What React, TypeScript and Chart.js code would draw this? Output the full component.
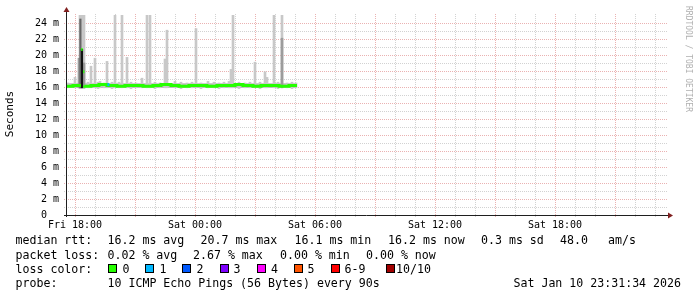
import React, { useEffect, useRef } from 'react';
import { Chart, registerables } from 'chart.js';

Chart.register(...registerables);

// ---- axis / tick data (x in hours since Fri 18:00) ----
const xTickHours = [0, 6, 12, 18, 24];
const xTickLabels = ['Fri 18:00', 'Sat 00:00', 'Sat 06:00', 'Sat 12:00', 'Sat 18:00'];
const yTickValues = [0, 2, 4, 6, 8, 10, 12, 14, 16, 18, 20, 22, 24];
const gridHours = [0, 1, 2, 3, 4, 5, 6, 7, 8, 9, 10, 11, 12, 13, 14, 15, 16, 17, 18, 19, 20, 21, 22, 23, 24, 25, 26, 27, 28, 29];
const gridMs = [1, 2, 3, 4, 5, 6, 7, 8, 9, 10, 11, 12, 13, 14, 15, 16, 17, 18, 19, 20, 21, 22, 23, 24];

// ---- median rtt (ms), loss 0 (null = median drawn as separate peak pieces) ----
const medTimes = [-0.4, -0.1, 0.15, 0.3, 0.31, 0.48, 0.8, 1.2, 1.6, 2.1, 2.5, 3.0, 3.4, 3.9, 4.3, 4.8, 5.2, 5.7, 6.2, 6.6, 7.1, 7.5, 8.0, 8.4, 8.9, 9.3, 9.8, 10.2, 10.7, 11.1];
const medValues = [16.2, 16.1, 16.2, 16.2, null, 16.2, 16.1, 16.2, 16.3, 16.2, 16.1, 16.2, 16.2, 16.1, 16.2, 16.3, 16.2, 16.1, 16.2, 16.2, 16.1, 16.2, 16.2, 16.3, 16.2, 16.1, 16.2, 16.2, 16.1, 16.2];
const peakTimes1 = [0.31, 0.38];
const peakValues1 = [20.7, 20.7];
const peakTimes2 = [0.41, 0.47];
const peakValues2 = [17.9, 17.9];
// ---- median rtt (ms), loss 1 ----
const loss1Times = [1.62, 1.72];
const loss1Values = [16.3, 16.3];

// ---- smoke: light outer range ----
const lightTimes = [-0.35, 0.0, 0.25, 0.35, 0.45, 0.65, 0.8, 1.0, 1.15, 1.25, 1.45, 1.6, 1.85, 2.0, 2.2, 2.35, 2.6, 2.8, 3.05, 3.35, 3.6, 3.75, 4.0, 4.25, 4.5, 4.6, 5.0, 5.3, 5.6, 5.85, 6.05, 6.3, 6.65, 6.95, 7.2, 7.45, 7.7, 7.8, 7.9, 8.2, 8.5, 8.75, 9.0, 9.25, 9.5, 9.6, 9.95, 10.15, 10.35, 10.6, 10.85, 11.05];
const lightHigh = [16.5, 17.2, 25, 25, 25, 16.6, 18.6, 19.6, 16.6, 16.7, 16.5, 19.2, 16.6, 25, 16.6, 25, 19.7, 16.6, 16.5, 17.1, 25, 25, 16.6, 16.5, 19.5, 23.1, 16.7, 16.6, 16.5, 16.6, 23.3, 16.5, 16.7, 16.6, 16.5, 16.6, 16.7, 18.2, 25, 16.6, 16.5, 16.6, 19.1, 16.6, 17.9, 17.2, 25, 16.6, 25, 16.5, 16.6, 16.5];
const lightLow = [15.9, 15.9, 15.8, 15.8, 15.8, 15.9, 15.9, 15.9, 15.8, 15.9, 15.9, 15.9, 15.8, 15.9, 15.9, 15.9, 15.9, 15.8, 15.9, 15.9, 15.9, 15.9, 15.8, 15.9, 15.9, 15.9, 15.9, 15.8, 15.9, 15.9, 15.9, 15.8, 15.9, 15.9, 15.8, 15.9, 15.9, 15.9, 15.9, 15.8, 15.9, 15.9, 15.9, 15.8, 15.9, 15.9, 15.9, 15.8, 15.9, 15.9, 15.8, 15.9];
// ---- smoke: mid range ----
const midTimes = [0.2, 0.45, 10.35];
const midHigh = [19.6, 19.0, 22.1];
const midLow = [15.9, 15.9, 15.9];
// ---- smoke: dark inner range ----
const darkTimes = [0.27];
const darkHigh = [24.5];
const darkLow = [15.9];
const coreTimes = [0.35];
const coreHigh = [20.7];
const coreLow = [15.9];
// ---- smoke: baseline band ----
const bandTimes = [-0.4, 11.1];
const bandHigh = [16.48, 16.48];
const bandLow = 15.88;

// ---- legend text ----
const rttStats = ['16.2 ms avg', '20.7 ms max', '16.1 ms min', '16.2 ms now', '0.3 ms sd', '48.0', 'am/s'];
const lossStats = ['0.02 % avg', '2.67 % max', '0.00 % min', '0.00 % now'];
const lossLabels = ['0', '1', '2', '3', '4', '5', '6-9', '10/10'];
const lossColors = ['#26ff00', '#00b8ff', '#0059ff', '#7e00ff', '#ff00ff', '#ff5500', '#ff0000', '#a10000'];
const probeText = '10 ICMP Echo Pings (56 Bytes) every 90s';
const stampText = 'Sat Jan 10 23:31:34 2026';

const MONO = '"DejaVu Sans Mono", monospace';

const pts = (t: number[], v: (number | null)[]) => t.map((x, i) => ({ x, y: v[i] }));
const rng = (t: number[], lo: number[], hi: number[]) => t.map((x, i) => ({ x, y: [lo[i], hi[i]] }));

const gridPlugin = {
  id: 'rrdGrid',
  beforeDatasetsDraw(chart: any) {
    const { ctx, chartArea: a, scales } = chart;
    const x = scales.x, y = scales.y;
    ctx.save();
    ctx.lineWidth = 1;
    ctx.setLineDash([1, 1]);
    const drawV = (h: number, col: string) => {
      const px = Math.round(x.getPixelForValue(h)) + 0.5;
      ctx.strokeStyle = col;
      ctx.beginPath();
      ctx.moveTo(px, a.bottom + 2);
      ctx.lineTo(px, a.top - 2);
      ctx.stroke();
    };
    const drawH = (v: number, col: string) => {
      const py = Math.round(y.getPixelForValue(v)) + 0.5;
      ctx.strokeStyle = col;
      ctx.beginPath();
      ctx.moveTo(a.left - 3, py);
      ctx.lineTo(a.right + 1, py);
      ctx.stroke();
    };
    gridHours.forEach((h) => { if (h % 3 !== 0) drawV(h, '#d2d2d2'); });
    gridMs.forEach((v) => { if (v % 2 !== 0) drawH(v, '#d2d2d2'); });
    gridHours.forEach((h) => { if (h % 3 === 0) drawV(h, '#eab2b2'); });
    gridMs.forEach((v) => { if (v % 2 === 0) drawH(v, '#eab2b2'); });
    ctx.restore();
  },
  afterDatasetsDraw(chart: any) {
    const { ctx, chartArea: a, scales } = chart;
    const yb = Math.round(scales.y.getPixelForValue(0)) + 0.5;
    const xl = Math.round(a.left) - 0.5;
    ctx.save();
    ctx.setLineDash([]);
    ctx.lineWidth = 1;
    ctx.strokeStyle = '#1f1f1f';
    ctx.beginPath();
    ctx.moveTo(a.left - 3, yb);
    ctx.lineTo(a.right + 2, yb);
    ctx.moveTo(xl, a.bottom + 2);
    ctx.lineTo(xl, a.top - 3);
    ctx.stroke();
    ctx.fillStyle = '#801f1f';
    ctx.beginPath();
    ctx.moveTo(xl - 3, a.top - 3);
    ctx.lineTo(xl + 3, a.top - 3);
    ctx.lineTo(xl, a.top - 8);
    ctx.closePath();
    ctx.fill();
    ctx.beginPath();
    ctx.moveTo(a.right + 1, yb - 3);
    ctx.lineTo(a.right + 1, yb + 3);
    ctx.lineTo(a.right + 6, yb);
    ctx.closePath();
    ctx.fill();
    ctx.restore();
  },
};

const textPlugin = {
  id: 'rrdText',
  afterDraw(chart: any) {
    const { ctx } = chart;
    ctx.save();
    ctx.fillStyle = '#000';
    ctx.font = `11px ${MONO}`;
    ctx.textAlign = 'center';
    ctx.textBaseline = 'middle';
    ctx.translate(10.5, 114);
    ctx.rotate(-Math.PI / 2);
    ctx.fillText('Seconds', 0, 0);
    ctx.restore();

    ctx.save();
    ctx.fillStyle = '#b0b0b0';
    ctx.font = `8px ${MONO}`;
    ctx.textAlign = 'center';
    ctx.textBaseline = 'middle';
    ctx.translate(688, 59);
    ctx.rotate(Math.PI / 2);
    ctx.fillText('RRDTOOL / TOBI OETIKER', 0, 0);
    ctx.restore();

    ctx.save();
    ctx.fillStyle = '#000';
    ctx.font = `11.6px ${MONO}`;
    ctx.textAlign = 'left';
    ctx.textBaseline = 'middle';
    const y1 = 241, y2 = 255.5, y3 = 269.5, y4 = 284;
    ctx.fillText('median rtt:', 15.5, y1);
    const rttX = [107.5, 200.5, 294.5, 388, 481, 560, 608];
    rttStats.forEach((s, i) => ctx.fillText(s, rttX[i], y1));
    ctx.fillText('packet loss:', 15.5, y2);
    const lossX = [107.5, 193, 280, 366];
    lossStats.forEach((s, i) => ctx.fillText(s, lossX[i], y2));
    ctx.fillText('loss color:', 15.5, y3);
    const boxX = [108, 145, 182, 220, 257, 294, 331, 386];
    const labX = [122.5, 159.5, 196.5, 233.5, 271, 307.5, 344.5, 396];
    lossLabels.forEach((s, i) => {
      ctx.fillStyle = lossColors[i];
      ctx.fillRect(boxX[i], 264, 9, 9);
      ctx.strokeStyle = '#000';
      ctx.lineWidth = 1;
      ctx.strokeRect(boxX[i] + 0.5, 264.5, 8, 8);
      ctx.fillStyle = '#000';
      ctx.fillText(s, labX[i], y3);
    });
    ctx.fillText('probe:', 15.5, y4);
    ctx.fillText(probeText, 107.5, y4);
    ctx.textAlign = 'right';
    ctx.fillText(stampText, 681, y4);
    ctx.restore();
  },
};

export default function App() {
  const ref = useRef<HTMLCanvasElement>(null);
  useEffect(() => {
    document.body.style.margin = '0';
    const canvas = ref.current!;
    const barBase = { type: 'bar' as const, grouped: false, borderWidth: 0 };
    const lineBase = { type: 'line' as const, borderWidth: 3, pointRadius: 0, stepped: 'after', spanGaps: false };
    const chart = new Chart(canvas, {
      type: 'line',
      data: {
        datasets: [
          { ...lineBase, data: pts(loss1Times, loss1Values), borderColor: '#00b8ff', order: 0 },
          { ...lineBase, data: pts(peakTimes1, peakValues1), borderColor: '#26ff00', order: 0 },
          { ...lineBase, data: pts(peakTimes2, peakValues2), borderColor: '#26ff00', order: 0 },
          { ...lineBase, data: pts(medTimes, medValues), borderColor: '#26ff00', order: 1 },
          { ...barBase, data: rng(coreTimes, coreLow, coreHigh), backgroundColor: '#141414', barThickness: 1.5, order: 2 },
          { ...barBase, data: rng(darkTimes, darkLow, darkHigh), backgroundColor: '#666666', barThickness: 1.5, order: 3 },
          { ...barBase, data: rng(midTimes, midLow, midHigh), backgroundColor: '#9c9c9c', barThickness: 2, order: 4 },
          { ...barBase, data: rng(lightTimes, lightLow, lightHigh), backgroundColor: '#c8c8c8', barThickness: 2, order: 5 },
          { type: 'line', data: pts(bandTimes, bandHigh), borderWidth: 0, pointRadius: 0, backgroundColor: '#bdbdbd', fill: { value: bandLow }, order: 6 },
        ] as any,
      },
      options: {
        animation: false,
        responsive: false,
        events: [],
        layout: { padding: { left: 0, right: 30, top: 15, bottom: 0 } },
        plugins: { legend: { display: false }, tooltip: { enabled: false } },
        scales: {
          x: {
            type: 'linear',
            min: -0.4,
            max: 29.6,
            offset: false,
            grid: { display: false, drawTicks: false },
            border: { display: false },
            afterBuildTicks: (s: any) => { s.ticks = xTickHours.map((v) => ({ value: v })); },
            afterFit: (s: any) => { s.height = 82; },
            ticks: {
              autoSkip: false,
              maxRotation: 0,
              padding: 4,
              color: '#000',
              font: { family: MONO, size: 10 },
              callback: (v: any) => xTickLabels[xTickHours.indexOf(Number(v))] ?? '',
            },
          },
          y: {
            type: 'linear',
            min: 0,
            max: 25,
            grid: { display: false, drawTicks: false },
            border: { display: false },
            afterBuildTicks: (s: any) => { s.ticks = yTickValues.map((v) => ({ value: v })); },
            afterFit: (s: any) => { s.width = 67; },
            ticks: {
              padding: 8,
              color: '#000',
              font: { family: MONO, size: 10 },
              callback: (v: any) => (Number(v) === 0 ? '0  ' : `${v} m`),
            },
          },
        },
      } as any,
      plugins: [gridPlugin, textPlugin],
    });
    return () => chart.destroy();
  }, []);
  return (
    <div style={{ position: 'absolute', left: 0, top: 0, width: 697, height: 297, background: '#fff' }}>
      <canvas ref={ref} width={697} height={297} style={{ display: 'block', width: 697, height: 297 }} />
    </div>
  );
}
